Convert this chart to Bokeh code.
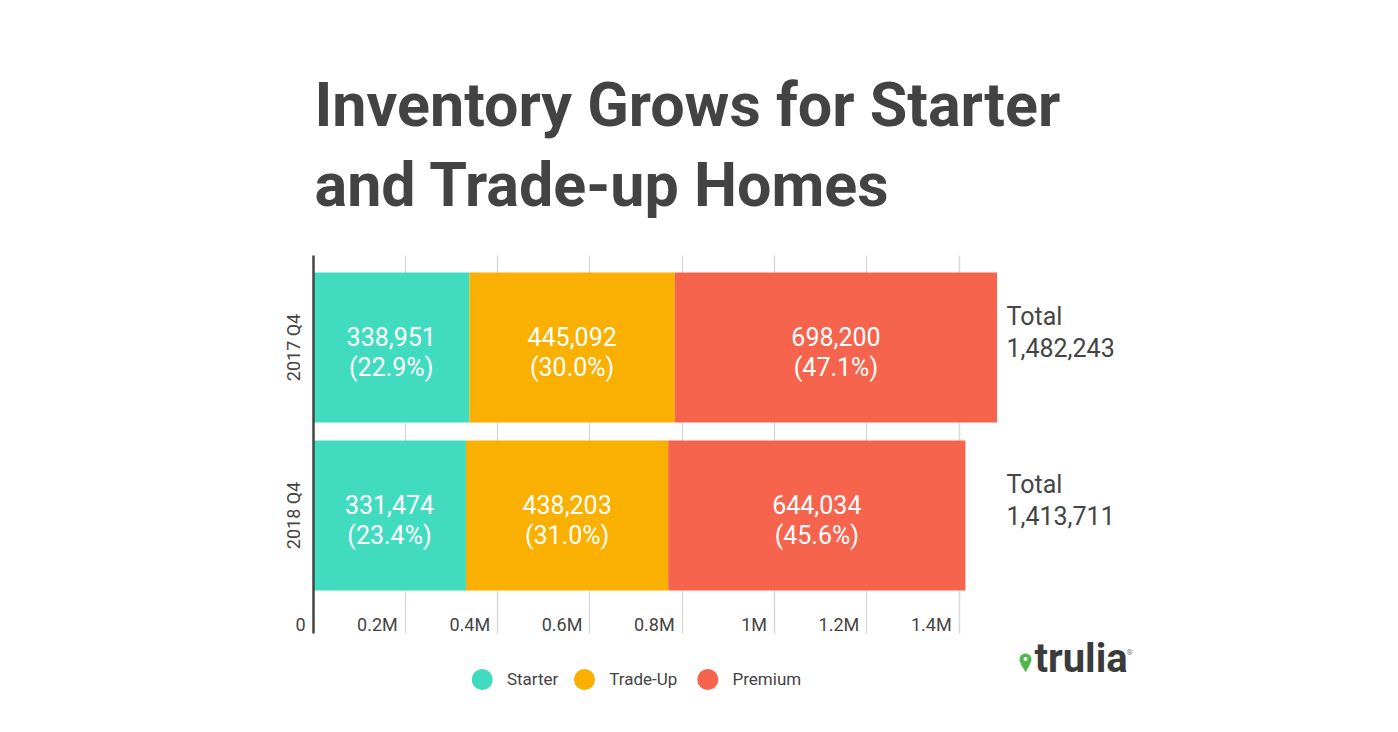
from bokeh.plotting import figure
from bokeh.models import ColumnDataSource, Range1d, FixedTicker, Grid
from bokeh.core.properties import value
from bokeh.embed import file_html
from bokeh.resources import INLINE

# ---------------- data ----------------
categories = ["2017 Q4", "2018 Q4"]
series = ["Starter", "Trade-Up", "Premium"]
starter = [338951, 331474]
trade_up = [445092, 438203]
premium = [698200, 644034]
colors = ["#41DCBF", "#F9B000", "#F7644E"]
tick_values = [0, 200000, 400000, 600000, 800000, 1000000, 1200000, 1400000]
tick_labels = ["0", "0.2M", "0.4M", "0.6M", "0.8M", "1M", "1.2M", "1.4M"]
title_lines = ["Inventory Grows for Starter", "and Trade-up Homes"]
brand = "trulia"

# ---------------- layout helpers (page pixels -> data) ----------------
W, H = 1382, 716
PAGE = 0                      # page offset of the figure
LEFT_PANEL = 60
X0, SX = 312.5, 461.5e-6      # page x of value 0, px per unit
Y0, SY = 347.0, 168.0         # page y of first row centre, px per row
BL = 0.35                     # baseline correction (fraction of font size)


def dx(px):
    return (px - X0) / SX


def dy(py):
    return 1 + (Y0 - py) / SY


def off(fs):
    return -BL * fs


FONT = value("Roboto")
TXT = "#444444"

p = figure(width=W, height=H, title=None,
           x_range=Range1d(dx(PAGE + LEFT_PANEL), dx(PAGE + W)),
           y_range=Range1d(dy(PAGE + H), dy(PAGE)),
           x_axis_location=None, y_axis_location="left",
           min_border_left=LEFT_PANEL, min_border_right=0,
           min_border_top=0, min_border_bottom=0,
           toolbar_location=None, output_backend="svg")
p.outline_line_color = None
p.background_fill_color = "white"
p.border_fill_color = "white"
p.xgrid.visible = False
p.ygrid.visible = False

# vertical grid lines limited to the plot zone
grid = Grid(dimension=0, ticker=FixedTicker(ticks=tick_values[1:]),
            grid_line_color="#d9d9d9", grid_line_width=1.5,
            cross_bounds=(dy(633), dy(255)))
p.add_layout(grid)

ys = [1 - i for i in range(len(categories))]
totals = [a + b + c for a, b, c in zip(starter, trade_up, premium)]
BAR_H = 150 / SY

left = [0] * len(categories)
for k, vals in enumerate([starter, trade_up, premium]):
    right = [l + v for l, v in zip(left, vals)]
    src = ColumnDataSource(dict(
        y=ys, left=left, right=right,
        mid=[(l + r) / 2 for l, r in zip(left, right)],
        val=[f"{v:,}" for v in vals],
        pct=[f"({100 * v / t:.1f}%)" for v, t in zip(vals, totals)],
    ))
    p.hbar(y="y", left="left", right="right", height=BAR_H, source=src,
           fill_color=colors[k], line_color=None)
    p.text(x="mid", y="y", text="val", source=src, text_font=FONT,
           text_font_size="25px", text_color="white", text_align="center",
           text_baseline="alphabetic", y_offset=-2 + off(25))
    p.text(x="mid", y="y", text="pct", source=src, text_font=FONT,
           text_font_size="25px", text_color="white", text_align="center",
           text_baseline="alphabetic", y_offset=28.5 + off(25))
    left = right

# totals
tsrc = ColumnDataSource(dict(y=ys, lbl=["Total"] * len(ys),
                             tot=[f"{t:,}" for t in totals]))
p.text(x=dx(1006), y="y", text="lbl", source=tsrc, text_font=FONT,
       text_font_size="25px", text_color=TXT, text_align="left",
       text_baseline="alphabetic", y_offset=-22.5 + off(25))
p.text(x=dx(1006), y="y", text="tot", source=tsrc, text_font=FONT,
       text_font_size="25px", text_color=TXT, text_align="left",
       text_baseline="alphabetic", y_offset=9 + off(25))

# x tick labels (right-aligned left of each grid line)
p.text(x=tick_values, y=dy(630), text=tick_labels, text_font=FONT,
       text_font_size="18px", text_color=TXT, text_align="right",
       text_baseline="alphabetic", x_offset=-7.5, y_offset=off(18))

# y axis drawn at x = 0
yax = p.yaxis[0]
yax.ticker = FixedTicker(ticks=ys)
yax.major_label_overrides = {y: c for y, c in zip(ys, categories)}
yax.major_label_orientation = "vertical"
yax.fixed_location = 0
yax.bounds = (dy(633), dy(255))
yax.axis_line_color = "#444444"
yax.axis_line_width = 2.5
yax.major_tick_line_color = None
yax.minor_tick_line_color = None
yax.major_label_text_font = "Roboto"
yax.major_label_text_font_size = "18px"
yax.major_label_text_color = TXT
yax.major_label_standoff = 3

# title
p.text(x=dx(314), y=[dy(126), dy(205.7)], text=title_lines, text_font=FONT,
       text_font_size="61px", text_font_style="bold", text_color="#434343",
       text_align="left", text_baseline="alphabetic", y_offset=off(61))

# legend
legend_x = [dx(481.7), dx(584), dx(707.3)]
p.scatter(x=legend_x, y=dy(679), size=21, marker="circle",
          fill_color=colors, line_color=None)
p.text(x=legend_x, y=dy(684.3), text=series, text_font=FONT,
       text_font_size="17px", text_color=TXT, text_align="left",
       text_baseline="alphabetic", x_offset=24.7, y_offset=off(17))

# brand mark
GREEN = "#4DB848"
p.scatter(x=dx(1025), y=dy(666), size=10, marker="inverted_triangle",
          fill_color=GREEN, line_color=None)
p.scatter(x=dx(1025), y=dy(659), size=12, marker="circle",
          fill_color=GREEN, line_color=None)
p.scatter(x=dx(1025), y=dy(658.5), size=4, marker="circle",
          fill_color="white", line_color=None)
p.text(x=dx(1034), y=dy(672), text=[brand], text_font=FONT,
       text_font_size="40px", text_font_style="bold", text_color="#3b3b3b",
       text_align="left", text_baseline="alphabetic", y_offset=off(40))
p.text(x=dx(1126), y=dy(655), text=["®"], text_font=FONT,
       text_font_size="8px", text_color="#777777",
       text_align="left", text_baseline="alphabetic", y_offset=off(8))

open("out.html", "w").write(file_html(p, INLINE))
